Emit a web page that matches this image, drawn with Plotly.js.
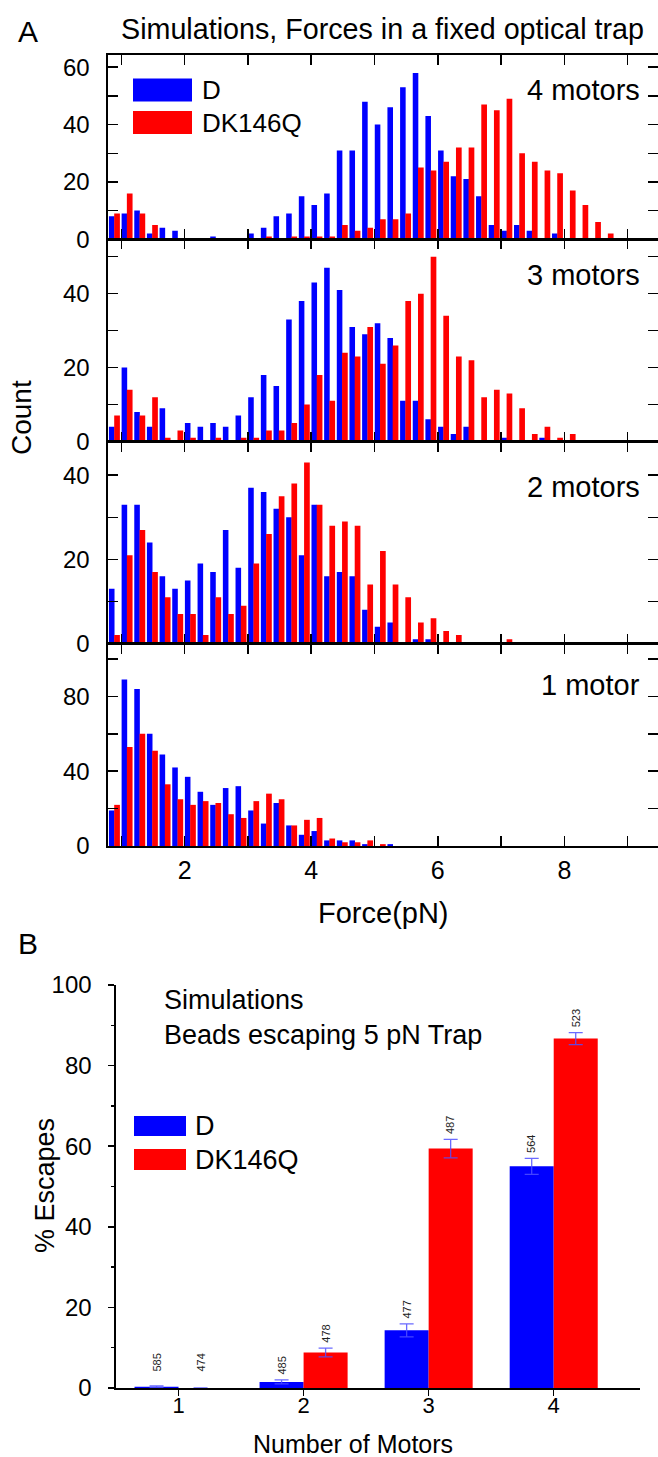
<!DOCTYPE html>
<html>
<head>
<meta charset="utf-8">
<script src="https://cdn.plot.ly/plotly-3.0.1.min.js"></script>
<style>html,body{margin:0;padding:0;background:#fff;}</style>
</head>
<body>
<div id="chart" style="width:658px;height:1457px;"></div>
<script>
// ---------- DATA ----------
// histogram bin centres (pN), bin width 0.2
const forceBins = [0.9,1.1,1.3,1.5,1.7,1.9,2.1,2.3,2.5,2.7,2.9,3.1,3.3,3.5,3.7,3.9,4.1,4.3,4.5,4.7,4.9,5.1,5.3,5.5,5.7,5.9,6.1,6.3,6.5,6.7,6.9,7.1,7.3,7.5,7.7,7.9,8.1,8.3,8.5,8.7];

const m4_D     = [8,9,10,2,4,3,0,0,1,0,0,2,4,8,9,15,12,16,31,31,48,40,46,53,58,43,31,22,21,15,5,3,5,3,0,2,0,0,0,0];
const m4_K146Q = [9,16,9,5,0,0,0,0,0,0,0,0,1,0,1,1,1,1,5,3,4,7,7,9,25,24,27,32,32,47,45,49,30,27,24,23,17,12,6,2];

const m3_D     = [4,20,8,4,9,0,5,4,5,4,7,12,18,15,33,38,43,47,41,31,29,32,28,11,11,6,4,2,4,0,0,1,0,0,1,0,0,0,0,0];
const m3_K146Q = [7,14,7,12,1,3,1,0,1,0,1,1,3,3,5,10,18,11,24,23,31,21,26,38,40,50,34,23,22,12,14,13,9,2,4,1,2,0,0,0];

const m2_D     = [13,33,33,24,16,13,15,19,17,27,18,37,36,32,30,21,33,16,17,16,8,4,5,0,1,1,0,0,0,0,0,0,0,0,0,0,0,0,0,0];
const m2_K146Q = [2,21,27,17,11,7,7,2,11,7,9,19,26,35,38,43,33,28,29,28,14,22,14,11,5,6,3,2,0,0,0,1,0,0,0,0,0,0,0,0];

const m1_D     = [19,89,84,60,49,42,37,29,22,31,32,19,12,23,11,6,8,3,3,3,1,0,1,0,0,0,0,0,0,0,0,0,0,0,0,0,0,0,0,0];
const m1_K146Q = [22,53,60,51,33,25,22,24,23,17,15,24,28,25,11,14,15,4,2,2,3,1,0,0,0,0,0,0,0,0,0,0,0,0,0,0,0,0,0,0];

const panelNames = ['4 motors','3 motors','2 motors','1 motor'];
const seriesNames = ['D','DK146Q'];

const forceTicks = [1,2,3,4,5,6,7,8,9];
const forceTickText = ['','2','','4','','6','','8',''];

// Panel B
const motorCounts = [1,2,3,4];
const esc_D = [0.3,1.5,14.3,55.0];
const esc_D_err = [0.2,0.5,1.6,2.0];
const esc_K = [0.0,8.8,59.4,86.7];
const esc_K_err = [0.0,1.1,2.3,1.5];
const n_D = ['585','485','477','564'];
const n_K = ['474','478','487','523'];

// ---------- LAYOUT HELPERS ----------
const W = 658, H = 1457;
const px = v => v / W;
const py = v => 1 - v / H;
const FONT = 'Arial, "Liberation Sans", sans-serif';
const BLUE = '#0000ff', RED = '#ff0000';

const panels = [
  {top: 54.6, bottom: 239.3, ymax: 64.4, ticks:[0,10,20,30,40,50,60], text:['0','','20','','40','','60'], labelY: 90,
   D: m4_D, K: m4_K146Q},
  {top: 239.3, bottom: 441.5, ymax: 54.7, ticks:[0,10,20,30,40,50], text:['0','','20','','40',''], labelY: 275,
   D: m3_D, K: m3_K146Q},
  {top: 441.5, bottom: 643.5, ymax: 48.0, ticks:[0,10,20,30,40], text:['0','','20','','40'], labelY: 487,
   D: m2_D, K: m2_K146Q},
  {top: 643.5, bottom: 846.0, ymax: 108.3, ticks:[0,20,40,60,80,100], text:['0','','40','','80',''], labelY: 685,
   D: m1_D, K: m1_K146Q}
];

const traces = [];
const layout = {
  width: W, height: H,
  margin: {l:0, r:0, t:0, b:0},
  paper_bgcolor: '#fff', plot_bgcolor: 'rgba(0,0,0,0)',
  font: {family: FONT, color: '#000', size: 24},
  showlegend: false,
  barmode: 'overlay',
  annotations: [], shapes: []
};

panels.forEach((p, i) => {
  const n = i + 1;
  const xa = n === 1 ? 'x' : 'x' + n;
  const ya = n === 1 ? 'y' : 'y' + n;
  traces.push({type:'bar', x: forceBins, y: p.D, xaxis: xa, yaxis: ya, name: seriesNames[0],
    marker:{color: BLUE, line:{width:0}}, width: 0.088, offset: -0.095});
  traces.push({type:'bar', x: forceBins, y: p.K, xaxis: xa, yaxis: ya, name: seriesNames[1],
    marker:{color: RED, line:{width:0}}, width: 0.09, offset: -0.012});
  layout['xaxis' + (n === 1 ? '' : n)] = {
    domain: [px(108), 1], range: [0.79, 9.48], anchor: ya,
    tickvals: forceTicks, ticktext: forceTickText,
    ticks: 'inside', ticklen: 10, tickwidth: 1.5, tickcolor: '#000',
    showline: true, linewidth: 1.6, linecolor: '#000', mirror: 'allticks',
    showgrid: false, zeroline: false,
    showticklabels: n === 4, tickfont: {size: 25}, ticklabelstandoff: 1
  };
  layout['yaxis' + (n === 1 ? '' : n)] = {
    domain: [py(p.bottom), py(p.top)], range: [0, p.ymax], anchor: xa,
    tickvals: p.ticks, ticktext: p.text,
    ticks: 'inside', ticklen: 10, tickwidth: 1.5, tickcolor: '#000',
    showline: true, linewidth: 1.6, linecolor: '#000', mirror: 'allticks',
    showgrid: false, zeroline: false, tickfont: {size: 24}, ticklabelstandoff: 12
  };
  layout.annotations.push({xref:'paper', yref:'paper', x: px(642), y: py(p.labelY),
    xanchor:'right', yanchor:'middle', text: panelNames[i], showarrow:false, font:{size:29}});
});

// Panel B bars
traces.push({type:'bar', x: motorCounts, y: esc_D, xaxis:'x5', yaxis:'y5', name: seriesNames[0],
  marker:{color: BLUE, line:{width:0}}, width: 0.352, offset: -0.352,
  error_y:{type:'data', array: esc_D_err, visible:true, color:'rgba(80,80,255,0.85)', thickness:1.3, width:7}});
traces.push({type:'bar', x: motorCounts, y: esc_K, xaxis:'x5', yaxis:'y5', name: seriesNames[1],
  marker:{color: RED, line:{width:0}}, width: 0.352, offset: 0,
  error_y:{type:'data', array: esc_K_err, visible:true, color:'rgba(80,80,255,0.85)', thickness:1.3, width:7}});

layout.xaxis5 = {
  domain: [px(116), px(640)], range: [0.5, 4.69], anchor: 'y5',
  tickvals: motorCounts, ticks: 'outside', ticklen: 6, tickwidth: 1.5, tickcolor:'#000',
  showline: true, linewidth: 1.6, linecolor: '#000', showgrid:false, zeroline:false,
  tickfont: {size: 22}, ticklabelstandoff: -9
};
layout.yaxis5 = {
  domain: [py(1388), py(985)], range: [0, 100], anchor: 'x5',
  dtick: 20, tick0: 0, ticks: 'outside', ticklen: 6, tickwidth: 1.5, tickcolor:'#000',
  minor: {dtick: 10, ticks:'outside', ticklen: 3.5, tickwidth: 1.5, tickcolor:'#000'},
  showline: true, linewidth: 1.6, linecolor: '#000', showgrid:false, zeroline:false,
  tickfont: {size: 24}, ticklabelstandoff: 12
};

// bar sample-size labels
motorCounts.forEach((m, i) => {
  layout.annotations.push({xref:'x5', yref:'y5', x: m - 0.176, y: esc_D[i] + esc_D_err[i],
    text: n_D[i], textangle: -90, showarrow:false, yanchor:'bottom', xanchor:'center', yshift: i === 0 ? 12 : 3,
    font:{size: 11, color:'#222'}});
  layout.annotations.push({xref:'x5', yref:'y5', x: m + 0.176, y: esc_K[i] + esc_K_err[i],
    text: n_K[i], textangle: -90, showarrow:false, yanchor:'bottom', xanchor:'center', yshift: i === 0 ? 14 : 3,
    font:{size: 11, color:'#222'}});
});

// text annotations
const ann = (x, y, text, size, opts) => Object.assign({xref:'paper', yref:'paper', x: px(x), y: py(y),
  text, showarrow:false, xanchor:'center', yanchor:'middle', font:{size}}, opts || {});
layout.annotations.push(
  ann(28, 31, 'A', 30),
  ann(382.5, 29, 'Simulations, Forces in a fixed optical trap', 28.7),
  ann(22, 418, 'Count', 28, {textangle: -90}),
  ann(383, 913, 'Force(pN)', 29),
  ann(200, 90, 'D', 26, {xanchor:'left'}),
  ann(200, 123, 'DK146Q', 26, {xanchor:'left'}),
  ann(28, 943, 'B', 30),
  ann(162, 1000, 'Simulations', 27, {xanchor:'left'}),
  ann(162, 1035, 'Beads escaping 5 pN Trap', 27, {xanchor:'left'}),
  ann(193, 1126, 'D', 27, {xanchor:'left'}),
  ann(193, 1160, 'DK146Q', 27, {xanchor:'left'}),
  ann(45, 1186, '% Escapes', 27, {textangle: -90}),
  ann(353, 1444, 'Number of Motors', 25)
);

// legend swatches
const rect = (x0, y0, x1, y1, color) => ({type:'rect', xref:'paper', yref:'paper',
  x0: px(x0), x1: px(x1), y0: py(y1), y1: py(y0), fillcolor: color, line:{width:0}});
layout.shapes.push(
  rect(133, 78.5, 192, 101.5, BLUE),
  rect(133, 111, 192, 134, RED),
  rect(134, 1116, 186, 1136, BLUE),
  rect(134, 1149, 186, 1170, RED)
);

Plotly.newPlot('chart', traces, layout, {displayModeBar:false, staticPlot:true});
</script>
</body>
</html>
